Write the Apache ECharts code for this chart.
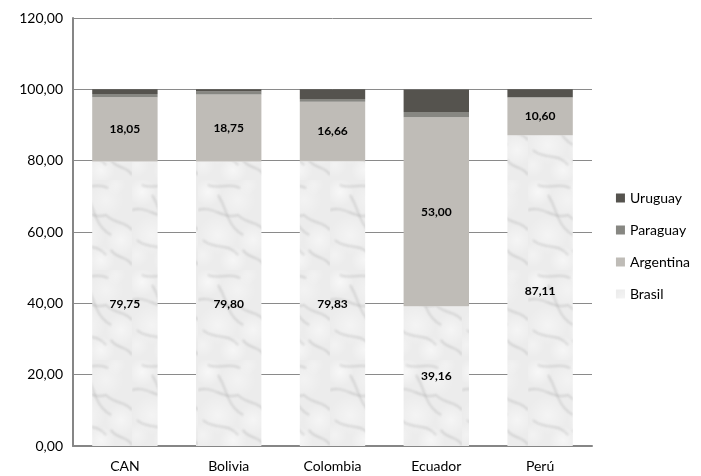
<!DOCTYPE html>
<html><head><meta charset="utf-8">
<script src="https://cdn.jsdelivr.net/npm/echarts@6/dist/echarts.min.js"></script>
<style>html,body{margin:0;padding:0;background:#fff}#c{width:701px;height:476px}</style>
</head><body><div id="c"></div>
<script>
const categories = ['CAN','Bolivia','Colombia','Ecuador','Perú'];
const brasil    = [79.75, 79.80, 79.83, 39.16, 87.11];
const argentina = [18.05, 18.75, 16.66, 53.00, 10.60];
const paraguay  = [0.9, 0.85, 0.8, 1.5, 0.1];
const uruguay   = [1.3, 0.6, 2.7, 6.3, 2.2];
const yTicks = [0,20,40,60,80,100,120];

function marble(){
  const c = document.createElement('canvas');
  c.width = 66; c.height = 90;
  const g = c.getContext('2d');
  g.fillStyle = '#ececec'; g.fillRect(0,0,66,90);
  const blobs = [[10,12,14,0.10],[40,20,18,0.06],[55,60,16,0.08],[20,55,20,0.07],[35,80,14,0.09],[5,75,12,0.06],[50,5,10,0.05]];
  blobs.forEach(b=>{const r=g.createRadialGradient(b[0],b[1],0,b[0],b[1],b[2]);r.addColorStop(0,'rgba(255,255,255,'+(b[3]*6)+')');r.addColorStop(1,'rgba(255,255,255,0)');g.fillStyle=r;g.fillRect(0,0,66,90);});
  g.filter = 'blur(1px)';
  g.strokeStyle = 'rgba(120,120,120,0.28)'; g.lineWidth = 1.5;
  const paths = [[0,30,15,25,25,40,40,35],[20,15,30,30,28,45,45,55],[40,35,50,45,58,40,66,50],[5,60,15,70,30,62,40,75],[45,70,52,80,60,75,66,85],[10,5,20,10,30,2,42,8]];
  paths.forEach(p=>{g.beginPath();g.moveTo(p[0],p[1]);g.bezierCurveTo(p[2],p[3],p[4],p[5],p[6],p[7]);g.stroke();});
  return c;
}
const fmt = v => v.toFixed(2).replace('.', ',');
const chart = echarts.init(document.getElementById('c'));
const lbl = {show:true, position:'inside', color:'#000', fontWeight:'bold', fontSize:12, fontFamily:'Lato', formatter:p=>fmt(p.value)};
chart.setOption({
  animation:false,
  textStyle:{fontFamily:'Lato'},
  grid:{left:73,right:109,top:18,bottom:30},
  legend:{orient:'vertical', right:6, top:186, itemGap:18, itemWidth:9, itemHeight:9, icon:'rect',
    textStyle:{fontSize:14, color:'#000', fontFamily:'Lato'},
    data:['Uruguay','Paraguay','Argentina','Brasil']},
  xAxis:{type:'category', data:categories, axisTick:{show:false},
    axisLine:{lineStyle:{color:'#868686', width:2}},
    axisLabel:{color:'#000', fontSize:14, margin:13}},
  yAxis:{type:'value', min:0, max:120, interval:20,
    axisLine:{show:true, lineStyle:{color:'#868686', width:2}},
    axisTick:{show:false},
    splitLine:{lineStyle:{color:'#8a8a8a', width:1}},
    axisLabel:{color:'#000', fontSize:14, margin:10, formatter:v=>fmt(v)}},
  series:[
    {name:'Brasil', type:'bar', stack:'t', barWidth:'63%', data:brasil, itemStyle:{color:{image:marble(), repeat:'repeat'}}, label:lbl},
    {name:'Argentina', type:'bar', stack:'t', data:argentina, itemStyle:{color:'#bfbcb7'}, label:lbl},
    {name:'Paraguay', type:'bar', stack:'t', data:paraguay, itemStyle:{color:'#878782'}},
    {name:'Uruguay', type:'bar', stack:'t', data:uruguay, itemStyle:{color:'#55534e'}}
  ]
});
</script></body></html>
